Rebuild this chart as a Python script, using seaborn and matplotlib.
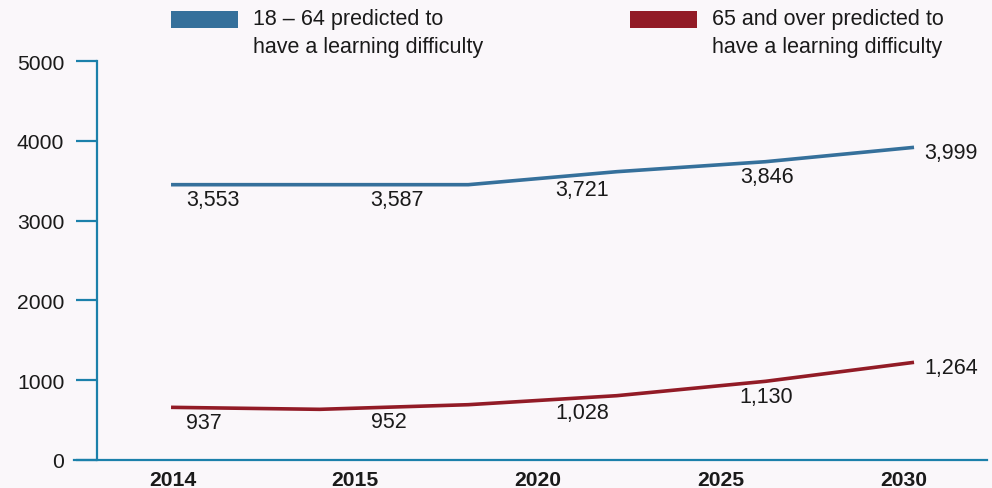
import numpy as np
import pandas as pd
import matplotlib
matplotlib.use("Agg")
import matplotlib.pyplot as plt
import seaborn as sns
from matplotlib.patches import Patch, Rectangle
from matplotlib.legend_handler import HandlerPatch

# ---- data ----
step = [0, 1, 2, 3, 4, 5]
young_line = [3450, 3450, 3450, 3613, 3738, 3918]
old_line = [660, 635, 693, 806, 986, 1224]
years = ["2014", "2015", "2020", "2025", "2030"]
young_labels = [3553, 3587, 3721, 3846, 3999]
old_labels = [937, 952, 1028, 1130, 1264]
series_names = ["18 – 64 predicted to\nhave a learning difficulty",
                "65 and over predicted to\nhave a learning difficulty"]

BLUE = "#35709b"
RED = "#921b26"
AXIS = "#1b80aa"
BG = "#faf7fa"
TXT = "#1a1a1a"
FS = 15.5
TFS = 15.2

sns.set_theme(style="white")
plt.rcParams["font.family"] = ["Liberation Sans", "DejaVu Sans"]

df = pd.DataFrame({
    "step": step * 2,
    "value": young_line + old_line,
    "series": [series_names[0]] * len(step) + [series_names[1]] * len(step),
})

fig = plt.figure(figsize=(9.92, 4.89), dpi=100, facecolor=BG)
ax = fig.add_axes([74 / 992, 28 / 489, 913 / 992, 399 / 489])
ax.set_facecolor(BG)

sns.lineplot(data=df, x="step", y="value", hue="series",
             palette=[BLUE, RED], linewidth=2.6, legend=False, ax=ax,
             solid_capstyle="butt")

ax.set_xlim(-0.653, 5.491)
ax.set_ylim(0, 5000)

tick_pos = np.linspace(0.01, 4.93, len(years))
ax.set_xticks(tick_pos)
ax.set_xticklabels(years, fontweight="bold")
ax.set_yticks([0, 1000, 2000, 3000, 4000, 5000])
ax.set_yticklabels(["0", "1000", "2000", "3000", "4000", "5000"])
ax.set_xlabel("")
ax.set_ylabel("")

for s in ["top", "right"]:
    ax.spines[s].set_visible(False)
for s in ["left", "bottom"]:
    ax.spines[s].set_color(AXIS)
    ax.spines[s].set_linewidth(1.6)
ax.spines["left"].set_position(("axes", 23 / 913))

ax.tick_params(axis="y", left=True, direction="out", length=15, width=1.6,
               color=AXIS, pad=8.5, labelsize=TFS, labelcolor=TXT)
ax.tick_params(axis="x", bottom=False, length=0, pad=7.5, labelsize=TFS,
               labelcolor=TXT)

# ---- value labels ----
label_x = np.linspace(0.10, 5.07, len(years))
for vals, line in [(young_labels, young_line), (old_labels, old_line)]:
    for i, v in enumerate(vals):
        last = i == len(vals) - 1
        lx = label_x[i]
        ly = line[-1] if last else np.interp(lx + 0.17, step, line)
        ax.annotate(f"{v:,}", xy=(lx, ly), xytext=(0, -5 if last else -15),
                    textcoords="offset pixels", ha="left", va="center",
                    fontsize=FS, color=TXT, annotation_clip=False)

# ---- legends ----
def top_patch(legend, orig_handle, xdescent, ydescent, width, height, fontsize):
    return Rectangle((-xdescent, -ydescent + 10.0), width, height)

for name, col, xpos in [(series_names[0], BLUE, 171 / 992), (series_names[1], RED, 630 / 992)]:
    leg = fig.legend(handles=[Patch(facecolor=col, edgecolor="none", label=name)],
                     loc="upper left", bbox_to_anchor=(xpos, 1 - 9.3 / 489),
                     frameon=False, fontsize=FS, borderpad=0, borderaxespad=0,
                     handlelength=3.12, handleheight=0.88, handletextpad=0.7,
                     handler_map={Patch: HandlerPatch(patch_func=top_patch)})
    for t in leg.get_texts():
        t.set_color(TXT)
        t.set_linespacing(1.42)

fig.savefig("out.png", dpi=100, facecolor=BG)
